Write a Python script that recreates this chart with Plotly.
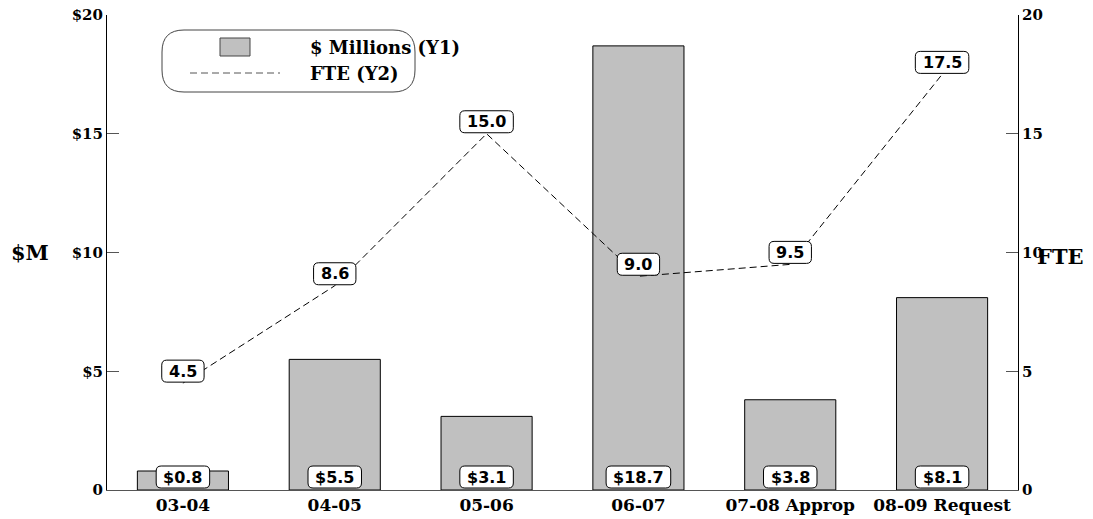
import plotly.graph_objects as go

categories = ["03-04", "04-05", "05-06", "06-07", "07-08 Approp", "08-09 Request"]
millions = [0.8, 5.5, 3.1, 18.7, 3.8, 8.1]
fte = [4.5, 8.6, 15.0, 9.0, 9.5, 17.5]
y1_ticks = [0, 5, 10, 15, 20]
y1_ticktext = ["0", "$5", "$10", "$15", "$20"]
y2_ticks = [0, 5, 10, 15, 20]
legend_labels = ["$ Millions (Y1)", "FTE (Y2)"]

SERIF = "DejaVu Serif"
SANS = "DejaVu Sans"
TICK = dict(family=SERIF, size=15, color="black", weight="bold")
XTICK = dict(family=SERIF, size=17, color="black", weight="bold")
LEG = dict(family=SERIF, size=18, color="black", weight="bold")
LAB = dict(family=SANS, size=16, color="black", weight="bold")
TITLE = dict(family=SERIF, size=21, color="black", weight="bold")

fig = go.Figure()
fig.add_trace(go.Bar(
    x=categories, y=millions, name=legend_labels[0],
    marker=dict(color="#c0c0c0", line=dict(color="black", width=1)),
    width=0.6, yaxis="y", showlegend=False,
))
fig.add_trace(go.Scatter(
    x=categories, y=fte, name=legend_labels[1], mode="lines",
    line=dict(color="black", width=1, dash="7px,4px"), yaxis="y2", showlegend=False,
))


def text_width(s, size=16):
    w = {".": 0.38}
    return sum(w.get(ch, 0.696) for ch in s) * size


def rounded(w, h, y_bottom, r=5):
    x0, x1 = -w / 2, w / 2
    y0, y1 = y_bottom, y_bottom + h
    return (f"M {x0+r},{y1} L {x1-r},{y1} Q {x1},{y1} {x1},{y1-r} "
            f"L {x1},{y0+r} Q {x1},{y0} {x1-r},{y0} L {x0+r},{y0} "
            f"Q {x0},{y0} {x0},{y0+r} L {x0},{y1-r} Q {x0},{y1} {x0+r},{y1} Z")


def boxed_label(xval, yval, yref, text, y_bottom):
    w = text_width(text) + 14
    h = 22
    fig.add_shape(type="path", xref="x", yref=yref,
                  xsizemode="pixel", ysizemode="pixel",
                  xanchor=xval, yanchor=yval,
                  path=rounded(w, h, y_bottom),
                  fillcolor="white", line=dict(color="black", width=1), layer="above")
    fig.add_annotation(x=xval, y=yval, xref="x", yref=yref, yshift=y_bottom + h / 2,
                       yanchor="middle", text=text, showarrow=False, font=LAB)


for c, v in zip(categories, millions):
    boxed_label(c, 0, "y", f"${v:.1f}", 2)
for c, v in zip(categories, fte):
    boxed_label(c, v, "y2", f"{v:.1f}", 1)

fig.add_annotation(x=0, xref="paper", y=10, yref="y", xanchor="center", yanchor="middle",
                   xshift=-77, text="$M", showarrow=False, font=TITLE)
fig.add_annotation(x=1, xref="paper", y=10, yref="y", xanchor="left", yanchor="middle",
                   xshift=17, yshift=-4, text="FTE", showarrow=False, font=TITLE)

# legend (drawn inside a rounded frame)
W, H = 911, 475
def px(x):
    return (x - 107) / W
def py(y):
    return (490 - y) / H
x0, x1 = px(162), px(415)
y0, y1 = py(92), py(30)
rx, ry = 22 / W, 22 / H
path = (f"M {x0+rx},{y1} L {x1-rx},{y1} Q {x1},{y1} {x1},{y1-ry} "
        f"L {x1},{y0+ry} Q {x1},{y0} {x1-rx},{y0} L {x0+rx},{y0} "
        f"Q {x0},{y0} {x0},{y0+ry} L {x0},{y1-ry} Q {x0},{y1} {x0+rx},{y1} Z")
fig.add_shape(type="path", path=path, xref="paper", yref="paper",
              line=dict(color="#444", width=1), fillcolor="rgba(0,0,0,0)")
fig.add_shape(type="rect", xref="paper", yref="paper",
              x0=px(220), x1=px(250), y0=py(56), y1=py(38),
              fillcolor="#c0c0c0", line=dict(color="#444", width=1))
fig.add_shape(type="line", xref="paper", yref="paper",
              x0=px(190), x1=px(280), y0=py(73), y1=py(73),
              line=dict(color="#555", width=1, dash="7px,4px"))
fig.add_annotation(x=px(308), y=py(47), xref="paper", yref="paper",
                   xanchor="left", yanchor="middle",
                   text=legend_labels[0], showarrow=False, font=LEG)
fig.add_annotation(x=px(308), y=py(73), xref="paper", yref="paper",
                   xanchor="left", yanchor="middle",
                   text=legend_labels[1], showarrow=False, font=LEG)

fig.update_layout(
    width=1093, height=519,
    margin=dict(l=107, r=75, t=15, b=29, autoexpand=False),
    plot_bgcolor="white", paper_bgcolor="white",
    font=TICK,
    showlegend=False,
    xaxis=dict(type="category", showline=True, linecolor="#555", linewidth=1, ticks="",
               tickfont=XTICK, range=[-0.5, 5.5], showgrid=False, automargin=False),
    yaxis=dict(range=[0, 20], tickvals=y1_ticks, ticktext=y1_ticktext,
               showline=True, linecolor="black", linewidth=1, automargin=False,
               ticks="inside", ticklen=12, tickcolor="#555", showgrid=False, zeroline=False,
               tickfont=TICK),
    yaxis2=dict(range=[0, 20], tickvals=y2_ticks, ticktext=[str(t) for t in y2_ticks],
                overlaying="y", side="right", automargin=False,
                showline=True, linecolor="black", linewidth=1,
                ticks="inside", ticklen=12, tickcolor="#555", showgrid=False, zeroline=False,
                tickfont=TICK),
)

fig.write_html("out.html")
